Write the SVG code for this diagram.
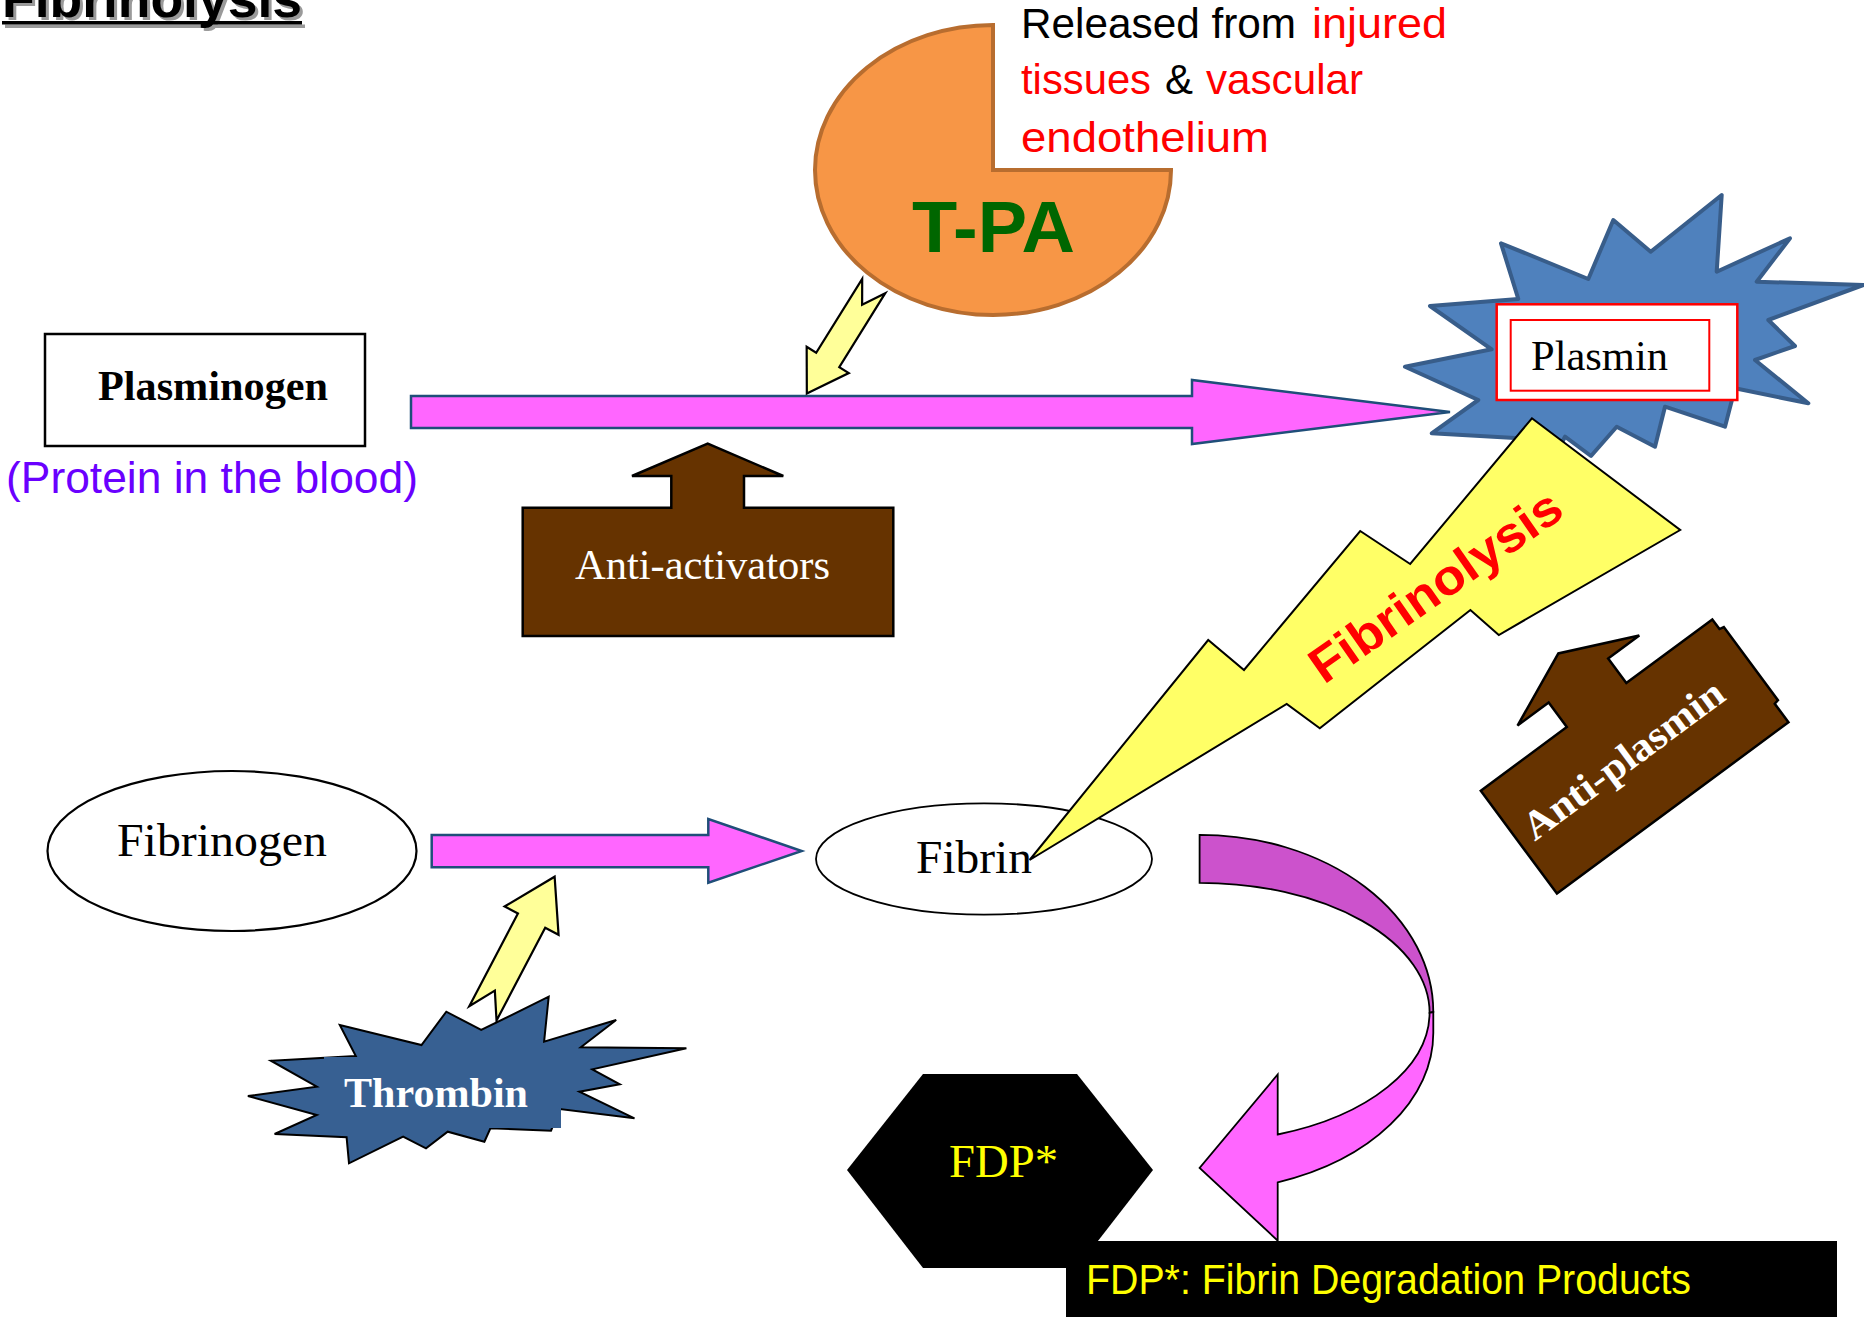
<svg xmlns="http://www.w3.org/2000/svg" width="1864" height="1317" viewBox="0 0 1864 1317">
<style>
.serif{font-family:"Liberation Serif","Times New Roman",serif}
.sans{font-family:"Liberation Sans",Arial,sans-serif}
.pink{fill:#FF66FF;stroke:#1F4E79;stroke-width:2.5}
.yel{fill:#FFFF99;stroke:#000;stroke-width:2.2}
.brown{fill:#663300;stroke:#000;stroke-width:2.5}
.red{fill:#FF0000}
</style>
<rect width="1864" height="1317" fill="#fff"/>
<g id="title">
<text x="5" y="20" class="sans" font-size="54" font-weight="bold" fill="#9a9a9a" textLength="300" lengthAdjust="spacingAndGlyphs">Fibrinolysis</text>
<rect x="5" y="24.5" width="300" height="3.5" fill="#9a9a9a"/>
<text x="2" y="17" class="sans" font-size="54" font-weight="bold" fill="#000" textLength="300" lengthAdjust="spacingAndGlyphs">Fibrinolysis</text>
<rect x="2" y="21" width="300" height="3.5" fill="#000"/>
</g>
<g id="tpa">
<path d="M993,170 L993,25 A178,145 0 1 0 1171,170 Z" fill="#F79646" stroke="#B86D2F" stroke-width="4"/>
<text x="993.5" y="252" class="sans" font-size="72" font-weight="bold" fill="#006600" text-anchor="middle" textLength="163" lengthAdjust="spacingAndGlyphs">T-PA</text>
</g>
<g id="released" class="sans" font-size="43">
<text x="1021" y="38" fill="#000" textLength="275" lengthAdjust="spacingAndGlyphs">Released from</text>
<text x="1312" y="38" class="red" textLength="135" lengthAdjust="spacingAndGlyphs">injured</text>
<text x="1021" y="94" class="red" textLength="130" lengthAdjust="spacingAndGlyphs">tissues</text>
<text x="1165" y="94" fill="#000" textLength="28" lengthAdjust="spacingAndGlyphs">&amp;</text>
<text x="1206" y="94" class="red" textLength="157" lengthAdjust="spacingAndGlyphs">vascular</text>
<text x="1021" y="152" class="red" textLength="248" lengthAdjust="spacingAndGlyphs">endothelium</text>
</g>
<g id="plasminogen">
<rect x="45" y="334" width="320" height="112" fill="#fff" stroke="#000" stroke-width="2.5"/>
<text x="98" y="400" class="serif" font-size="42" font-weight="bold" fill="#000" textLength="230" lengthAdjust="spacingAndGlyphs">Plasminogen</text>
<text x="6" y="493" class="sans" font-size="44" fill="#6A00FF" textLength="412" lengthAdjust="spacingAndGlyphs">(Protein in the blood)</text>
</g>
<g id="plasmin">
<polygon points="1405,366.7 1491.7,349.3 1430,306 1518.3,299 1501,243.3 1588.3,279 1613.3,220 1650.7,251.7 1721.7,195 1716.7,271.7 1790,238.3 1756.7,281.7 1863.3,285 1768.3,320 1795,346 1755,360 1808.3,403.3 1735,388.3 1725,426.7 1665,406.7 1655,446.7 1616.7,426.7 1591,456 1565,436.7 1545,475 1515,438 1431.7,433.3 1478.3,400" fill="#4F81BD" stroke="#385D8A" stroke-width="4" stroke-linejoin="round"/>
<rect x="1496.7" y="304.3" width="240.6" height="95.7" fill="#fff" stroke="#FF0000" stroke-width="2.5"/>
<rect x="1510.7" y="320" width="198.6" height="70.7" fill="none" stroke="#FF0000" stroke-width="2"/>
<text x="1531" y="370" class="serif" font-size="42" fill="#000" textLength="137" lengthAdjust="spacingAndGlyphs">Plasmin</text>
</g>
<g id="anti-activators">
<path class="brown" d="M522.7,507.7 L671.3,507.7 L671.3,476 L632,476 L707.7,443.7 L783.3,476 L744,476 L744,507.7 L893.3,507.7 L893.3,636 L522.7,636 Z"/>
<text x="575" y="579" class="serif" font-size="42" fill="#fff" textLength="255" lengthAdjust="spacingAndGlyphs">Anti-activators</text>
</g>
<g id="anti-plasmin" transform="translate(1480.8,790.7) rotate(-36.5)">
<path class="brown" d="M0,0 L107,0 L107,-30.5 L68.3,-30.5 L144,-64.2 L219.7,-30.5 L181,-30.5 L181,0 L288,0 L288,12 L292.7,13 L292.7,104 L288,105 L288,128 L0,128 Z"/>
<text x="133" y="73" class="serif" font-size="40" font-weight="bold" fill="#fff" text-anchor="middle" textLength="240" lengthAdjust="spacingAndGlyphs">Anti-plasmin</text>
</g>
<g id="fibrinogen">
<ellipse cx="232" cy="851" rx="184.5" ry="80" fill="#fff" stroke="#000" stroke-width="2.2"/>
<text x="117" y="856" class="serif" font-size="47" fill="#000" textLength="210" lengthAdjust="spacingAndGlyphs">Fibrinogen</text>
</g>
<g id="fibrin">
<ellipse cx="984" cy="859" rx="168" ry="55.7" fill="#fff" stroke="#000" stroke-width="1.8"/>
<text x="916" y="873" class="serif" font-size="47" fill="#000" textLength="116" lengthAdjust="spacingAndGlyphs">Fibrin</text>
</g>
<g id="thrombin">
<polygon points="247.9,1096 316.8,1086.7 270.9,1060.7 355.8,1056 339.8,1025 421.5,1045 446.3,1011.7 481.2,1030 548.7,996.7 544.1,1041.7 616.2,1020 580.8,1047.3 686.4,1048.3 592.3,1069.3 619.8,1084.3 579.4,1091.7 634.5,1118.3 560,1109 551,1130.7 490.4,1128.3 484.4,1141.7 447.7,1131.7 426,1148.3 403.1,1136.7 349,1163.3 346.6,1137.3 274.6,1134 316.8,1115" fill="#376092" stroke="#000" stroke-width="2"/>
<rect x="324" y="1057" width="237" height="71" fill="#376092"/>
<text x="344" y="1107" class="serif" font-size="42" font-weight="bold" fill="#fff" textLength="184" lengthAdjust="spacingAndGlyphs">Thrombin</text>
</g>
<g id="fdp">
<polygon points="923,1074 1077,1074 1153,1170 1077,1268 923,1268 847,1170" fill="#000"/>
<text x="949" y="1177" class="serif" font-size="47" fill="#FFFF00" textLength="109" lengthAdjust="spacingAndGlyphs">FDP*</text>
</g>
<g id="connectors">
<path class="pink" d="M411,396 L1192,396 L1192,380 L1450,412 L1192,444 L1192,428 L411,428 Z"/>
<path class="pink" d="M431.7,835 L708.3,835 L708.3,819 L801.7,851 L708.3,882.7 L708.3,867.3 L431.7,867.3 Z"/>
<path class="yel" transform="translate(873.75,286) rotate(121.9)" d="M0,-13.6 L87.1,-13.6 L87.1,-24.8 L126.6,0 L87.1,24.8 L87.1,13.6 L0,13.6 L22,0 Z"/>
<path class="yel" transform="translate(482.9,1013.35) rotate(-62.3)" d="M0,-15.4 L104.7,-15.4 L104.7,-30.5 L154.3,0 L104.7,30.5 L104.7,15.4 L0,15.4 L25.7,0 Z"/>
<g id="bolt">
<path d="M1531.9,418.3 L1680.2,530 L1498.8,635 L1470.4,610 L1319.8,728.3 L1286.7,704 L1029.6,860 L1208.2,640 L1244,670 L1360.2,531 L1410.2,564 Z" fill="#FFFF66" stroke="#000" stroke-width="2"/>
<text transform="translate(1324,685) rotate(-35)" class="sans" font-size="50" font-weight="bold" fill="#FF0000" textLength="296" lengthAdjust="spacingAndGlyphs">Fibrinolysis</text>
</g>
<g id="curved-arrow" stroke="#000" stroke-width="1.8">
<path d="M1199.6,834.8 A233.7,177.2 0 0 1 1433.3,1012 L1429.6,1012.8 A230,130 0 0 0 1199.6,882.8 Z" fill="#CC52CC"/>
<path d="M1429.6,1012.8 A230,130 0 0 1 1277.7,1134.5 L1277.7,1074.5 L1199.6,1168 L1277.7,1240.6 L1277.7,1182.4 A233.7,158.5 0 0 0 1433.3,1033 L1433.3,1012 Z" fill="#FF66FF"/>
</g>
</g>
<g id="caption">
<rect x="1066" y="1241" width="771" height="80" fill="#000"/>
<text x="1086" y="1294" class="sans" font-size="42" fill="#FFFF00" textLength="605" lengthAdjust="spacingAndGlyphs">FDP*: Fibrin Degradation Products</text>
</g>
</svg>
